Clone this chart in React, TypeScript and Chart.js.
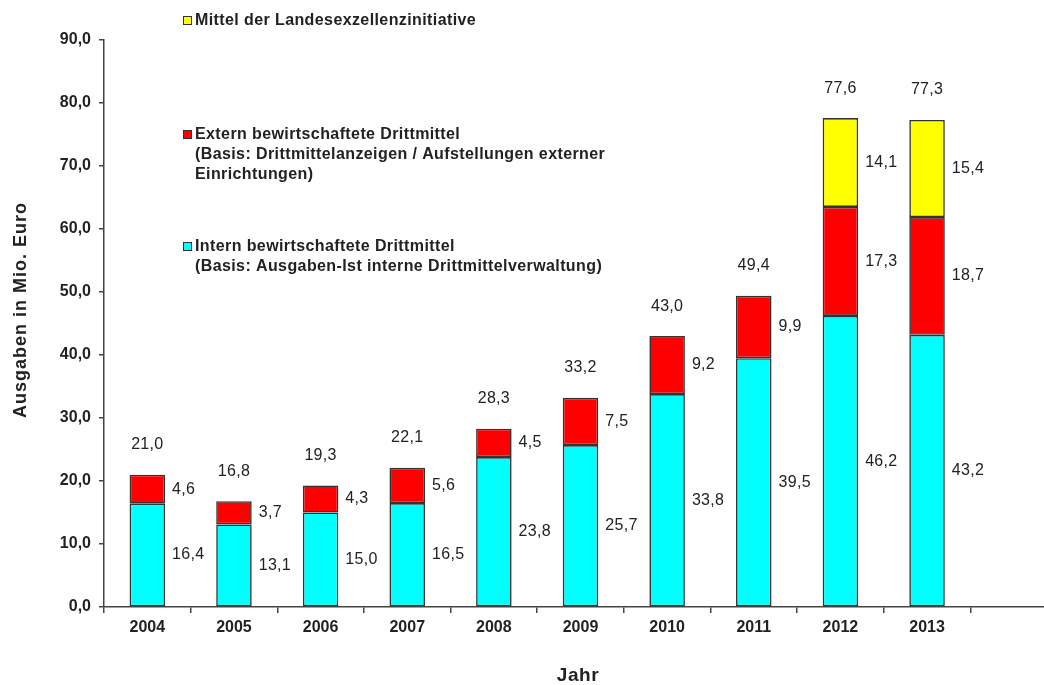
import React, { useEffect, useRef } from "react";
import { Chart, registerables } from "chart.js";

Chart.register(...registerables);

const years = ["2004", "2005", "2006", "2007", "2008", "2009", "2010", "2011", "2012", "2013", ""];
const intern = [16.4, 13.1, 15.0, 16.5, 23.8, 25.7, 33.8, 39.5, 46.2, 43.2, 0];
const extern = [4.6, 3.7, 4.3, 5.6, 4.5, 7.5, 9.2, 9.9, 17.3, 18.7, 0];
const landes = [0, 0, 0, 0, 0, 0, 0, 0, 14.1, 15.4, 0];
const totals = [21.0, 16.8, 19.3, 22.1, 28.3, 33.2, 43.0, 49.4, 77.6, 77.3];

const legendItems = [
  { color: "#FFFF00", lines: ["Mittel der Landesexzellenzinitiative"], y: 21 },
  {
    color: "#FF0000",
    lines: [
      "Extern bewirtschaftete Drittmittel",
      "(Basis: Drittmittelanzeigen / Aufstellungen externer",
      "Einrichtungen)",
    ],
    y: 135,
  },
  {
    color: "#00FFFF",
    lines: ["Intern bewirtschaftete Drittmittel", "(Basis: Ausgaben-Ist interne Drittmittelverwaltung)"],
    y: 247,
  },
];

const FONT = "'Liberation Sans', Arial, sans-serif";
const TXT = "#222";
const fmt = (v: number) => v.toFixed(1).replace(".", ",");

const labelPlugin = {
  id: "customLabels",
  afterDatasetsDraw(chart: any) {
    const ctx = chart.ctx;
    ctx.save();
    ctx.fillStyle = TXT;
    ctx.font = `16px ${FONT}`;
    ctx.letterSpacing = "0.3px";
    ctx.textBaseline = "middle";
    ctx.textAlign = "left";
    chart.data.datasets.forEach((ds: any, i: number) => {
      const meta = chart.getDatasetMeta(i);
      meta.data.forEach((bar: any, j: number) => {
        const v = ds.data[j];
        if (!v) return;
        const p = bar.getProps(["x", "y", "base", "width"], true);
        ctx.fillText(fmt(v), p.x + p.width / 2 + 7, (p.y + p.base) / 2);
      });
    });
    ctx.textAlign = "center";
    const yScale = chart.scales.y;
    const meta0 = chart.getDatasetMeta(0);
    totals.forEach((t, j) => {
      const bar = meta0.data[j];
      ctx.fillText(fmt(t), bar.x, yScale.getPixelForValue(t) - 30);
    });

    // legend
    ctx.textAlign = "left";
    ctx.font = `bold 16px ${FONT}`;
    ctx.letterSpacing = "0.4px";
    legendItems.forEach((it) => {
      ctx.fillStyle = it.color;
      ctx.fillRect(183, it.y - 5, 9, 9);
      ctx.strokeStyle = "#333";
      ctx.lineWidth = 1;
      ctx.strokeRect(183.5, it.y - 4.5, 8, 8);
      ctx.fillStyle = TXT;
      it.lines.forEach((l, k) => ctx.fillText(l, 195, it.y + k * 19.7));
    });

    // axis titles
    ctx.font = `bold 19px ${FONT}`;
    ctx.letterSpacing = "0.6px";
    ctx.textAlign = "center";
    ctx.fillText("Jahr", 578, 676);
    ctx.font = `bold 18px ${FONT}`;
    ctx.letterSpacing = "1px";
    ctx.translate(21, 310);
    ctx.rotate(-Math.PI / 2);
    ctx.fillText("Ausgaben in Mio. Euro", 0, 0);
    ctx.restore();
  },
};

export default function App() {
  const ref = useRef<HTMLCanvasElement>(null);
  useEffect(() => {
    if (!ref.current) return;
    const border = { borderColor: "#333", borderWidth: 1.6, borderSkipped: false as any };
    const chart = new Chart(ref.current, {
      type: "bar",
      data: {
        labels: years,
        datasets: [
          { label: "Intern", data: intern, backgroundColor: "#00FFFF", ...border },
          { label: "Extern", data: extern, backgroundColor: "#FF0000", ...border },
          { label: "Landes", data: landes, backgroundColor: "#FFFF00", ...border },
        ],
      },
      options: {
        animation: false,
        responsive: false,
        devicePixelRatio: 1,
        layout: { padding: { top: 40, right: 3, left: 0, bottom: 0 } },
        datasets: { bar: { barPercentage: 0.41, categoryPercentage: 1 } },
        plugins: { legend: { display: false }, tooltip: { enabled: false } },
        scales: {
          x: {
            stacked: true,
            afterFit: (s: any) => {
              s.height = 78;
            },
            grid: { display: true, drawOnChartArea: false, drawTicks: true, tickLength: 6, color: "#444", lineWidth: 1.5, offset: true },
            border: { display: true, color: "#444", width: 1.5 },
            ticks: { color: TXT, font: { family: FONT, size: 16, weight: "bold" }, padding: 5 },
          },
          y: {
            stacked: true,
            min: 0,
            max: 90,
            afterFit: (s: any) => {
              s.width = 104;
            },
            grid: { display: true, drawOnChartArea: false, drawTicks: true, tickLength: 5, color: "#444", lineWidth: 1.5 },
            border: { display: true, color: "#444", width: 1.5 },
            ticks: {
              stepSize: 10,
              color: TXT,
              font: { family: FONT, size: 16, weight: "bold" },
              padding: 8,
              callback: (v: any) => fmt(Number(v)),
            },
          },
        },
      },
      plugins: [labelPlugin],
    });
    return () => chart.destroy();
  }, []);
  return (
    <div style={{ position: "fixed", left: 0, top: 0, width: 1060, height: 685, overflow: "hidden", background: "#fff" }}>
      <canvas ref={ref} width={1060} height={685} style={{ width: 1060, height: 685, display: "block" }} />
    </div>
  );
}
